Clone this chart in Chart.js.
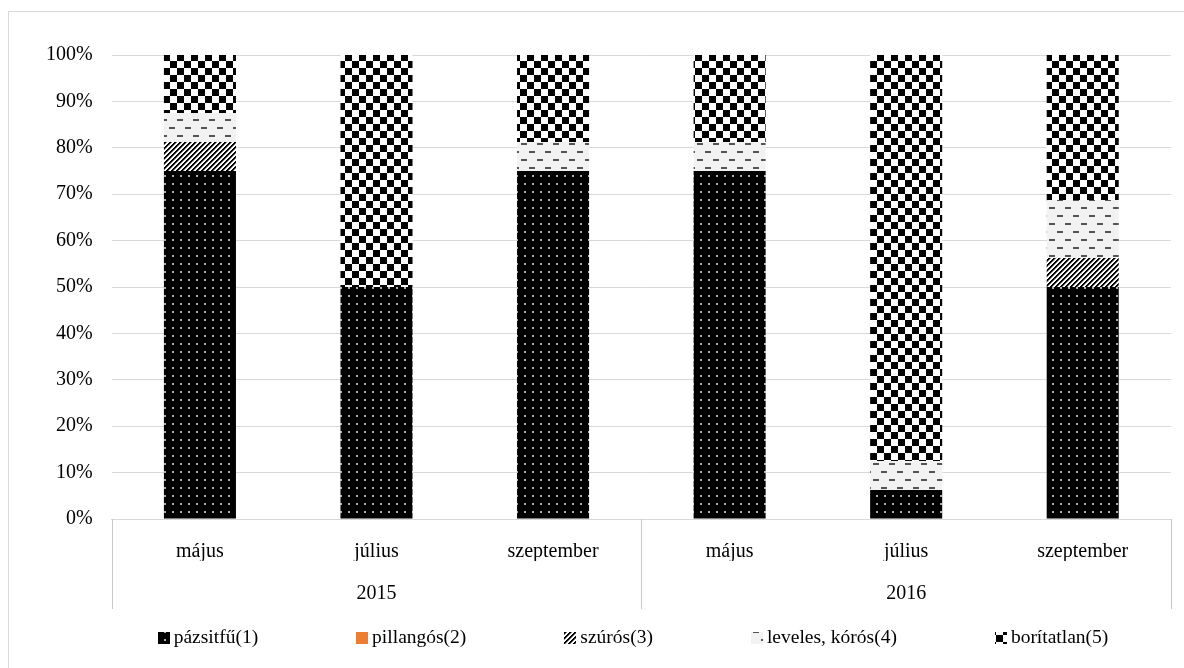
<!DOCTYPE html>
<html lang="hu">
<head>
<meta charset="utf-8">
<title>Borítottság 2015–2016</title>
<script src="https://cdn.jsdelivr.net/npm/chart.js@4.4.1/dist/chart.umd.min.js"></script>
<style>
    html, body { margin: 0; padding: 0; background: #fff; overflow: hidden; }
    #keret { position: absolute; left: 8px; top: 11px; width: 1248px; height: 670px; border: 1px solid #d9d9d9; }
</style>
</head>
<body>
<div id="keret"><canvas id="boritottsagChart"></canvas></div>
<script>
// Kategóriák: hónapok, alattuk az évek
const honapok = ['május', 'július', 'szeptember', 'május', 'július', 'szeptember'];
const evek = ['2015', '2016'];
const szazalekTickek = [0, 10, 20, 30, 40, 50, 60, 70, 80, 90, 100];

// Borítottság (%) csoportonként
const pazsitfu = [75, 50, 75, 75, 6.25, 50];
const pillangos = [0, 0, 0, 0, 0, 0];
const szuros = [6.25, 0, 0, 0, 0, 6.25];
const leveles = [6.25, 0, 6.25, 6.25, 6.25, 12.5];
const boritatlan = [12.5, 50, 18.75, 18.75, 87.5, 31.25];

const betu = '"Liberation Serif", "Times New Roman", serif';
const vaszon = document.getElementById('boritottsagChart');
const ctx = vaszon.getContext('2d');

// Mintázat készítése pixelenként
function mintazat(w, h, szin) {
    const c = document.createElement('canvas');
    c.width = w;
    c.height = h;
    const cx = c.getContext('2d');
    const img = cx.createImageData(w, h);
    for (let y = 0; y < h; y++) {
        for (let x = 0; x < w; x++) {
            const v = szin(x, y);
            const i = (y * w + x) * 4;
            img.data[i] = v;
            img.data[i + 1] = v;
            img.data[i + 2] = v;
            img.data[i + 3] = 255;
        }
    }
    cx.putImageData(img, 0, 0);
    return ctx.createPattern(c, 'repeat');
}

// fekete alap, világos pöttyök
const pottyos = mintazat(8, 8, (x, y) => (x >= 3 && x <= 4 && y >= 3 && y <= 4) ? 175 : 0);
// ferde csíkok
const csikos = mintazat(5, 5, (x, y) => {
    const k = (x + y) % 5;
    return k < 2 ? 0 : (k === 2 ? 128 : 255);
});
// szaggatott vonalak világosszürke alapon
const szaggatott = mintazat(16, 16, (x, y) => {
    if ((y === 3 || y === 4) && x <= 5) return 85;
    if ((y === 11 || y === 12) && x >= 8 && x <= 13) return 85;
    return 242;
});
// sakktábla
const sakk = mintazat(14, 14, (x, y) => ((Math.floor(x / 7) + Math.floor(y / 7)) % 2 === 0) ? 0 : 255);

// Elválasztó vonalak a kategóriatengely alatt
const elvalasztok = {
    id: 'elvalasztok',
    afterDraw(chart) {
        const x = chart.scales.x;
        const also = chart.scales.x2.bottom;
        const kozep = (x.getPixelForValue(2) + x.getPixelForValue(3)) / 2;
        const c = chart.ctx;
        c.save();
        c.strokeStyle = '#c8c8c8';
        c.lineWidth = 1;
        [x.left, kozep, x.right].forEach(px => {
            c.beginPath();
            c.moveTo(Math.round(px) + 0.5, chart.chartArea.bottom);
            c.lineTo(Math.round(px) + 0.5, also);
            c.stroke();
        });
        c.restore();
    }
};

// Jelmagyarázat a diagram alján
const jelmagyarazat = {
    id: 'jelmagyarazat',
    afterDraw(chart) {
        const c = chart.ctx;
        const tetelek = chart.data.datasets;
        const doboz = 12, res = 4, koz = 98;
        c.save();
        c.font = '19.5px ' + betu;
        c.textBaseline = 'middle';
        const szelessegek = tetelek.map(d => doboz + res + c.measureText(d.label).width);
        const teljes = szelessegek.reduce((a, b) => a + b, 0) + koz * (tetelek.length - 1);
        let x = chart.width / 2 - teljes / 2;
        const y = chart.scales.x2.bottom + 29;
        tetelek.forEach((d, i) => {
            c.fillStyle = d.backgroundColor;
            c.fillRect(Math.round(x), Math.round(y - doboz / 2), doboz, doboz);
            c.fillStyle = '#000';
            c.fillText(d.label, x + doboz + res, y);
            x += szelessegek[i] + koz;
        });
        c.restore();
    }
};

const adatsor = (label, data, szin) => ({
    label: label,
    data: data,
    backgroundColor: szin,
    borderWidth: 0,
    barPercentage: 0.408,
    categoryPercentage: 1
});

new Chart(ctx, {
    type: 'bar',
    data: {
        labels: honapok,
        datasets: [
            adatsor('pázsitfű(1)', pazsitfu, pottyos),
            adatsor('pillangós(2)', pillangos, '#ED7D31'),
            adatsor('szúrós(3)', szuros, csikos),
            adatsor('leveles, kórós(4)', leveles, szaggatott),
            adatsor('borítatlan(5)', boritatlan, sakk)
        ]
    },
    options: {
        responsive: true,
        maintainAspectRatio: false,
        animation: false,
        layout: { padding: { left: 18, right: 86, top: 43, bottom: 73 } },
        plugins: {
            legend: { display: false },
            tooltip: { enabled: false }
        },
        scales: {
            x: {
                stacked: true,
                grid: { display: false, drawTicks: false },
                border: { display: true, color: '#d9d9d9' },
                ticks: { color: '#000', padding: 21, font: { family: betu, size: 20 } },
                afterFit: scale => { scale.height = 42; }
            },
            x2: {
                type: 'category',
                labels: evek,
                position: 'bottom',
                offset: true,
                grid: { display: false, drawTicks: false },
                border: { display: false },
                ticks: { color: '#000', padding: 21, font: { family: betu, size: 20 } },
                afterFit: scale => { scale.height = 48; }
            },
            y: {
                stacked: true,
                min: 0,
                max: 100,
                afterBuildTicks: scale => {
                    scale.ticks = szazalekTickek.map(v => ({ value: v }));
                },
                grid: { color: '#d9d9d9', drawTicks: false },
                border: { display: false },
                ticks: {
                    color: '#000',
                    padding: 19,
                    font: { family: betu, size: 20 },
                    callback: v => v + '%'
                }
            }
        }
    },
    plugins: [elvalasztok, jelmagyarazat]
});
</script>
</body>
</html>
